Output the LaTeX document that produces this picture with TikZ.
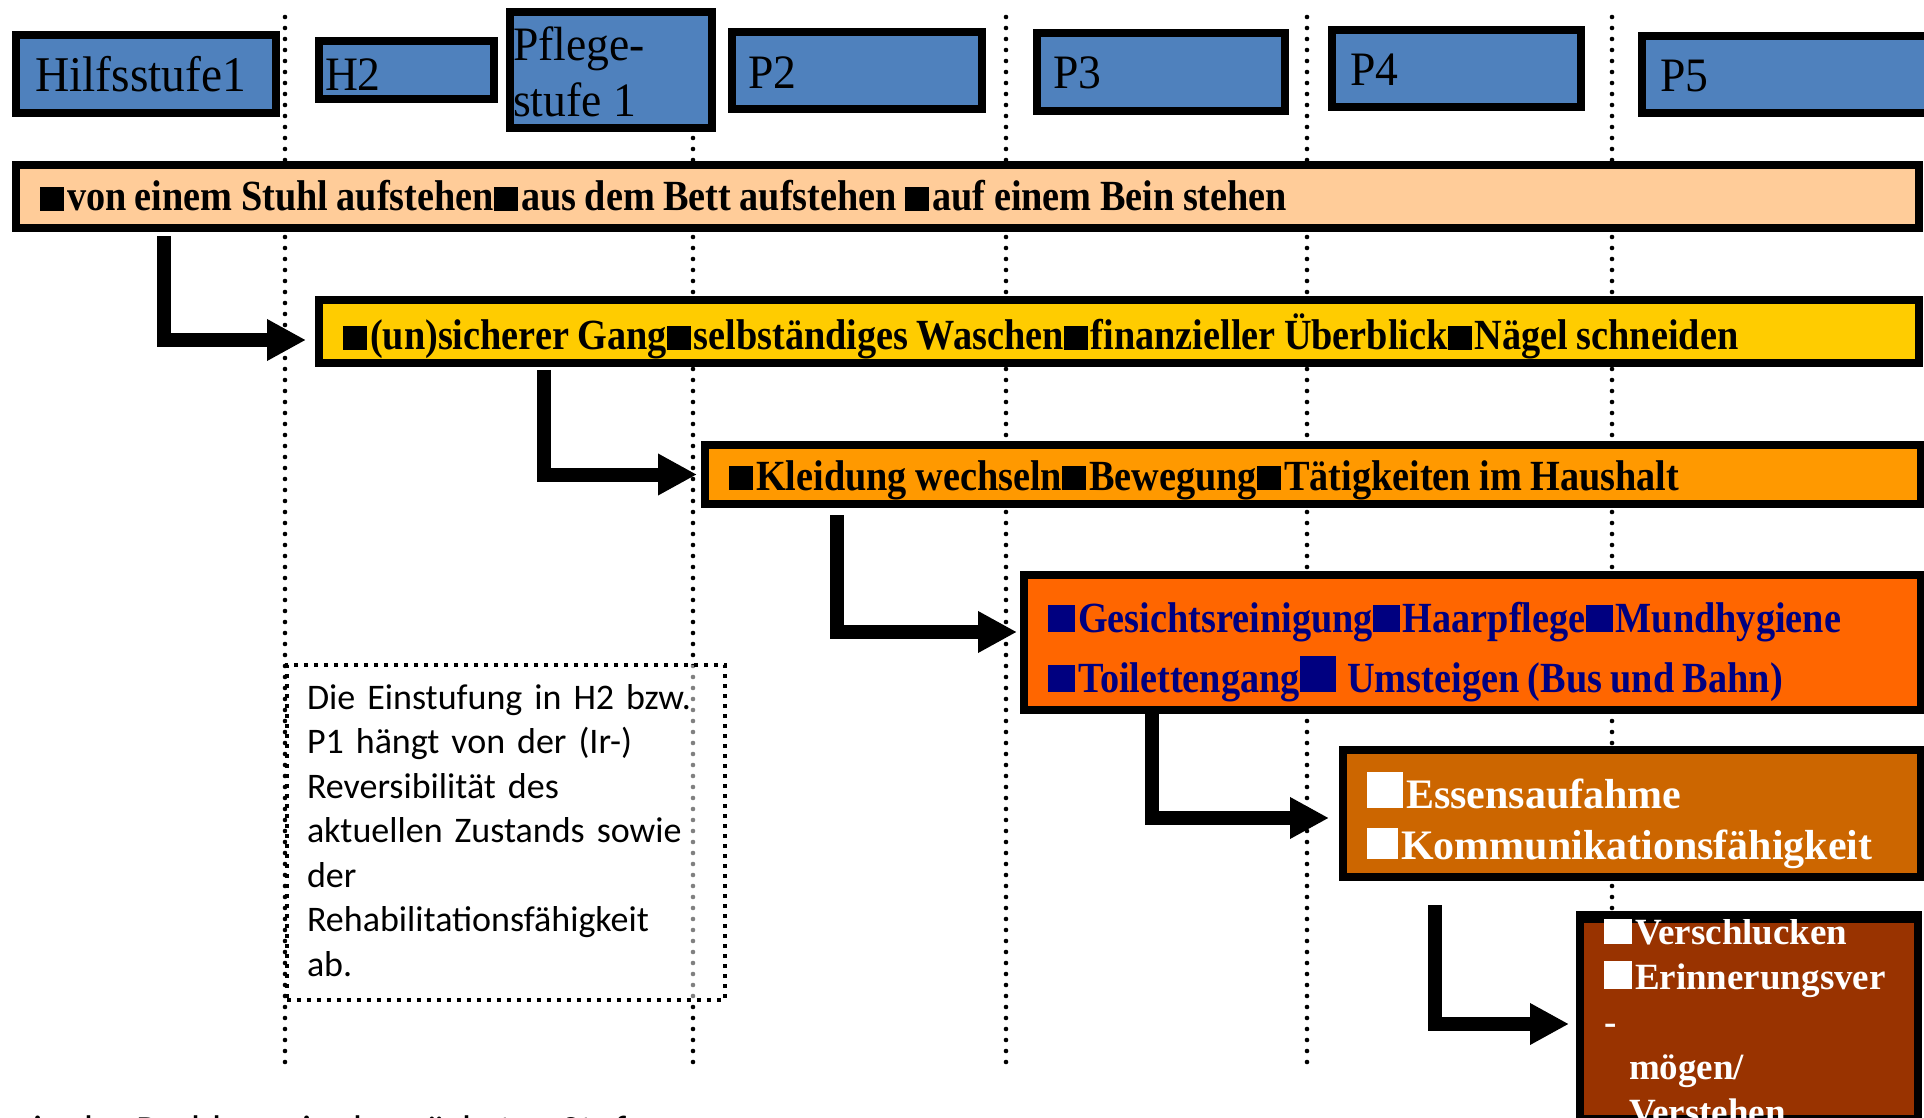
\documentclass[tikz,border=0pt]{standalone}
\usepackage{fontspec}
\setmainfont{Liberation Serif}
\newfontfamily\hdrfont{Liberation Serif}[FakeStretch=0.95]
\newfontfamily\barfont{Liberation Serif}[FakeStretch=0.89]
\newfontfamily\wbarfont{Liberation Serif}
\newfontfamily\calfont{Carlito}
\usetikzlibrary{arrows.meta}
\definecolor{hdrblue}{HTML}{4F81BD}
\definecolor{peach}{HTML}{FFCC99}
\definecolor{gold}{HTML}{FFCC00}
\definecolor{orng}{HTML}{FF9900}
\definecolor{dorng}{HTML}{FF6600}
\definecolor{navyblue}{HTML}{000080}
\definecolor{brorng}{HTML}{CC6600}
\definecolor{dbrown}{HTML}{993300}
\newcommand\sq[1][12pt]{\rule{#1}{#1}\kern1.5pt\ignorespaces}
\newcommand\tightsp{\spaceskip=4.2pt\relax}
\hyphenpenalty=10000
\exhyphenpenalty=10000
\tikzset{
  basebox/.style={draw=black, line width=4pt, anchor=north west, inner ysep=0pt, align=flush left},
  hdrbox/.style={basebox, fill=hdrblue, text=black, font=\hdrfont\fontsize{24}{28}\selectfont},
  barbox/.style={basebox, inner xsep=12pt, font=\barfont\bfseries\fontsize{21.5}{30}\selectfont\tightsp},
  wbarbox/.style={basebox, inner xsep=12pt, text=white, font=\wbarfont\bfseries\fontsize{21}{25.5}\selectfont},
  guideline/.style={line width=2.3pt, dash pattern=on 0pt off 5.5pt, line cap=round},
  bigarrow/.style={line width=7pt, line join=miter, -{Triangle[length=19.5pt,width=19.5pt]}},
  notebox/.style={anchor=north west, draw=black, line width=2pt, dash pattern=on 2pt off 3pt,
    fill=white, fill opacity=0.5, text opacity=1, inner xsep=10pt, inner ysep=0pt,
    text width=199pt, text height=22pt, text depth=145.5pt, align=left,
    font=\calfont\fontsize{18}{22.25}\selectfont}
}
\begin{document}
\begin{tikzpicture}[x=0.5pt,y=-0.5pt]
\useasboundingbox (0,0) rectangle (1924,1118);
\clip (0,0) rectangle (1924,1118);
% vertical dotted guides
\foreach \gx in {285,693,1006,1307,1612} \draw[guideline] (\gx,17) -- (\gx,1062);

% header boxes
\node[hdrbox, inner xsep=9.5pt, text width=111pt, text height=28.5pt, text depth=10.5pt,
      font=\hdrfont\fontsize{25}{28}\selectfont] (hs1) at (12,31) {Hilfsstufe1};
\node[hdrbox, inner xsep=3pt, text width=81.5pt, text height=25pt, text depth=4pt] (h2) at (315,37) {H2};
\node[hdrbox, inner xsep=1.5pt, text width=98pt, text height=24.5pt, text depth=33.5pt] (pf1) at (506,8) {Pflege-\\stufe 1};
\node[hdrbox, inner xsep=8pt, text width=109pt, text height=28.5pt, text depth=10pt] (p2) at (728,28) {P2};
\node[hdrbox, inner xsep=8pt, text width=108pt, text height=28pt, text depth=11pt] (p3) at (1033,29) {P3};
\node[hdrbox, inner xsep=9pt, text width=106.5pt, text height=28pt, text depth=10.5pt] (p4) at (1328,26) {P4};
\node[hdrbox, inner xsep=9pt, text width=128pt, text height=28pt, text depth=10.5pt] (p5) at (1638,32) {P5};

% bars
\node[barbox, fill=peach, text=black, text width=927.5pt, text height=23pt, text depth=8.5pt] (bar1) at (12,161)
  {\sq von einem Stuhl aufstehen\sq aus dem Bett aufstehen \sq auf einem Bein stehen};
\node[barbox, fill=gold, text=black, text width=776pt, text height=25pt, text depth=6.5pt] (bar2) at (315,296)
  {\sq(un)sicherer Gang\sq selbständiges Waschen\sq finanzieller Überblick\sq Nägel schneiden};
\node[barbox, fill=orng, text=black, text width=584pt, text height=22.5pt, text depth=7pt] (bar3) at (701,441)
  {\sq Kleidung wechseln\sq Bewegung\sq Tätigkeiten im Haushalt};
\node[barbox, fill=dorng, text=navyblue, text width=424.5pt, text height=28.5pt, text depth=39pt] (bar4) at (1020,571)
  {\sq[13.5pt]Gesichtsreinigung\sq[13.5pt]Haarpflege\sq[13.5pt]Mundhygiene\\
   \sq[13.5pt]Toilettengang\sq[18pt]~Umsteigen (Bus und Bahn)};
\node[wbarbox, fill=brorng, text width=265pt, text height=29pt, text depth=34.5pt] (bar5) at (1339,746)
  {\sq[18pt]Essensaufahme\\\sq[15.5pt]Kommunikationsfähigkeit};
\node[wbarbox, fill=dbrown, text width=145pt, text height=12.5pt, text depth=87.5pt,
      font=\wbarfont\bfseries\fontsize{18.5}{22.5}\selectfont] (bar6) at (1576,915)
  {\sq[14pt]Verschlucken\\\sq[14pt]Erinnerungsver\\-\\\hspace*{12.5pt}mögen/\\\hspace*{12.5pt}Verstehen};
\draw[line width=4pt] (bar6.north west) -- (bar6.north east);

% note box
\node[notebox] (note) at (285,663)
  {Die Einstufung in H2 bzw.\\P1 hängt von der (Ir-)\\Reversibilität des\\aktuellen Zustands sowie\\der\\Rehabilitationsfähigkeit\\ab.};

% arrows
\coordinate (a1s) at (164,236);
\coordinate (a2s) at (544,370);
\coordinate (a3s) at (837,515);
\coordinate (a4s) at (1152,712);
\coordinate (a5s) at (1435,905);
\draw[bigarrow, shorten >=4.5pt] (a1s) |- ([yshift=-4.25pt]bar2.west);
\draw[bigarrow, shorten >=2pt] (a2s) |- (bar3.west);
\draw[bigarrow, shorten >=1.5pt] (a3s) |- ([yshift=5.25pt]bar4.west);
\draw[bigarrow, shorten >=5pt] (a4s) |- ([yshift=-2.25pt]bar5.west);
\draw[bigarrow, shorten >=3.5pt] (a5s) |- ([yshift=-2.5pt]bar6.west);

% cut-off footer text
\node[anchor=base west, inner sep=0pt, font=\calfont\fontsize{20}{24}\selectfont] (foot) at (33,1143)
  {in der Probleme in der nächsten Stufe};
\end{tikzpicture}
\end{document}
